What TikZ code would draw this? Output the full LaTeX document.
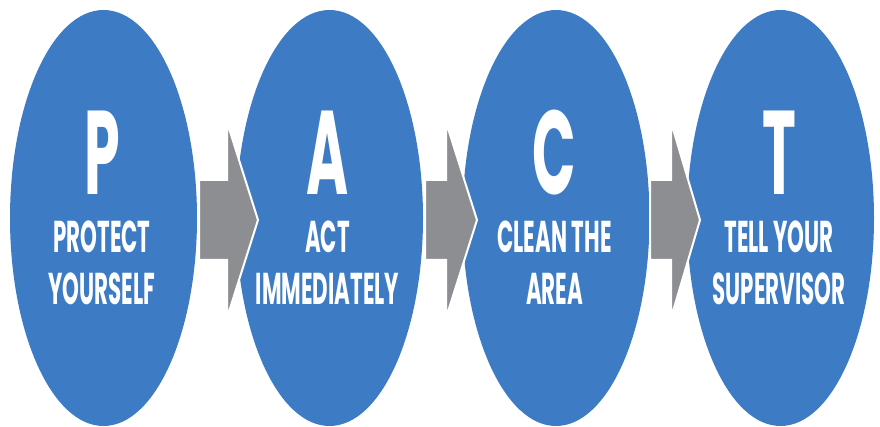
\documentclass[tikz,border=0pt]{standalone}
\usepackage{fontspec}
\setmainfont{Poppins}[FakeStretch=0.48]
\usetikzlibrary{shapes.geometric}
\definecolor{pblue}{HTML}{3D7CC4}
\definecolor{pgray}{HTML}{8D8E92}
\begin{document}
\begin{tikzpicture}[x=1pt,y=-1pt,
 disc/.style={ellipse, fill=pblue, minimum width=187pt, minimum height=416pt, inner sep=0pt},
 big/.style={text=white, font=\bfseries\fontsize{119}{119}\selectfont, anchor=base, inner sep=0pt},
 small/.style={text=white, font=\bfseries\fontsize{44.5}{44.5}\selectfont, anchor=base, inner sep=0pt},
 flow/.style={fill=pgray, draw=white, line width=2pt, line join=miter}]
\fill[white] (0,0) rectangle (880,427);
\useasboundingbox (0,0) rectangle (880,427);
% discs
\node[disc] (d1) at (103.5,218) {};
\node[disc] (d2) at (329.5,218) {};
\node[disc] (d3) at (556,218) {};
\node[disc] (d4) at (780.5,218) {};
% arrows
\draw[flow] (199,180) -- (227,180) -- (227,122) -- (258,220) -- (227,318) -- (227,260) -- (199,260) -- cycle;
\draw[flow] (425,180) -- (446,180) -- (446,122) -- (477,220) -- (446,318) -- (446,260) -- (425,260) -- cycle;
\draw[flow] (650,180) -- (671,180) -- (671,122) -- (700,220) -- (671,318) -- (671,260) -- (650,260) -- cycle;
% texts
\node[big] (p) at (102,195) {P};
\node[small] (p1) at (102,253) {PROTECT};
\node[small] (p2) at (102,305) {YOURSELF};
\node[big] (a) at (327.5,195) {A};
\node[small] (a1) at (327.5,253) {ACT};
\node[small] (a2) at (327.5,305) {IMMEDIATELY};
\node[big] (c) at (554.5,195) {C};
\node[small] (c1) at (554.5,253) {CLEAN THE};
\node[small] (c2) at (554.5,305) {AREA};
\node[big] (t) at (779,195) {T};
\node[small] (t1) at (779,253) {TELL YOUR};
\node[small] (t2) at (779,305) {SUPERVISOR};
\end{tikzpicture}
\end{document}
